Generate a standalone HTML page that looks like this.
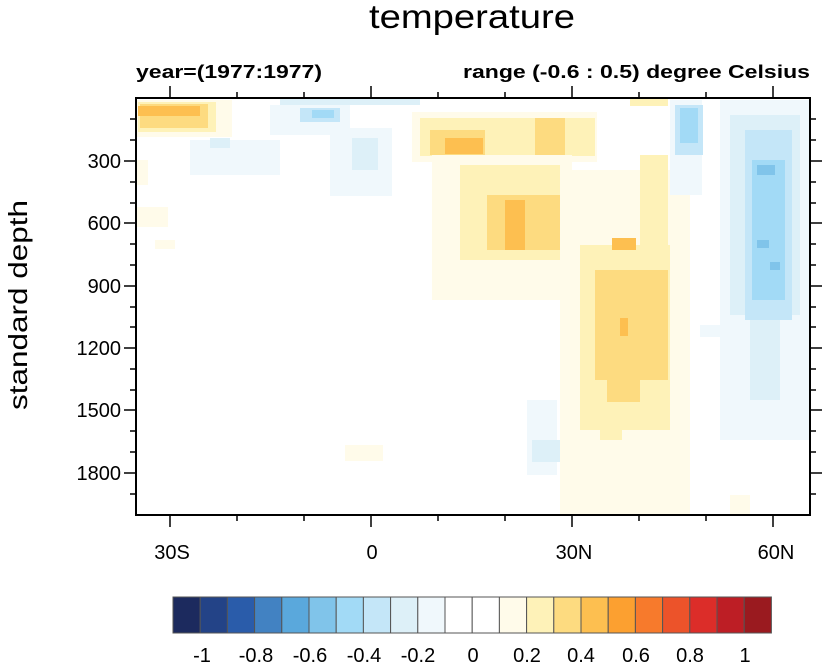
<!DOCTYPE html>
<html><head><meta charset="utf-8"><style>
body{margin:0;background:#fff}
svg text{font-family:"Liberation Sans",sans-serif}
</style></head><body>
<svg width="827" height="663" xmlns="http://www.w3.org/2000/svg">
<text x="472" y="28" font-size="33" text-anchor="middle" textLength="206" lengthAdjust="spacingAndGlyphs">temperature</text>
<text x="136" y="78" font-size="18" font-weight="bold" textLength="186" lengthAdjust="spacingAndGlyphs">year=(1977:1977)</text>
<text x="463" y="78" font-size="18" font-weight="bold" textLength="347" lengthAdjust="spacingAndGlyphs">range (-0.6 : 0.5) degree Celsius</text>
<text transform="translate(27,305) rotate(-90)" font-size="26" text-anchor="middle" textLength="210" lengthAdjust="spacingAndGlyphs">standard depth</text>
<g>
<rect x="136" y="100" width="96" height="37" fill="#fffbea"/>
<rect x="138" y="102" width="78" height="30" fill="#fef2b8"/>
<rect x="140" y="104" width="68" height="24" fill="#fddb80"/>
<rect x="138" y="106" width="62" height="10" fill="#fdbf50"/>
<rect x="136" y="160" width="12" height="25" fill="#fffbea"/>
<rect x="137" y="207" width="31" height="20" fill="#fffbea"/>
<rect x="155" y="240" width="20" height="9" fill="#fffbea"/>
<rect x="280" y="98" width="140" height="7" fill="#ddf0f8"/>
<rect x="270" y="105" width="80" height="30" fill="#f0f8fc"/>
<rect x="300" y="108" width="40" height="14" fill="#c4e6f8"/>
<rect x="312" y="110" width="22" height="8" fill="#a2daf6"/>
<rect x="190" y="140" width="90" height="35" fill="#f0f8fc"/>
<rect x="210" y="138" width="20" height="10" fill="#ddf0f8"/>
<rect x="330" y="128" width="62" height="68" fill="#f0f8fc"/>
<rect x="352" y="138" width="26" height="32" fill="#ddf0f8"/>
<rect x="412" y="112" width="185" height="50" fill="#fffbea"/>
<rect x="420" y="118" width="175" height="38" fill="#fef2b8"/>
<rect x="430" y="130" width="55" height="25" fill="#fddb80"/>
<rect x="445" y="138" width="38" height="16" fill="#fdbf50"/>
<rect x="535" y="118" width="30" height="38" fill="#fddb80"/>
<rect x="630" y="98" width="38" height="8" fill="#fef2b8"/>
<rect x="432" y="155" width="140" height="145" fill="#fffbea"/>
<rect x="460" y="165" width="100" height="95" fill="#fef2b8"/>
<rect x="487" y="195" width="73" height="55" fill="#fddb80"/>
<rect x="505" y="200" width="20" height="50" fill="#fdbf50"/>
<rect x="560" y="170" width="130" height="345" fill="#fffbea"/>
<rect x="640" y="155" width="28" height="100" fill="#fef2b8"/>
<rect x="580" y="245" width="90" height="185" fill="#fef2b8"/>
<rect x="595" y="270" width="73" height="110" fill="#fddb80"/>
<rect x="607" y="380" width="33" height="22" fill="#fddb80"/>
<rect x="612" y="238" width="24" height="12" fill="#fdbf50"/>
<rect x="620" y="318" width="8" height="18" fill="#fdbf50"/>
<rect x="600" y="420" width="22" height="20" fill="#fef2b8"/>
<rect x="730" y="495" width="20" height="20" fill="#fffbea"/>
<rect x="345" y="445" width="38" height="16" fill="#fffbea"/>
<rect x="670" y="100" width="32" height="95" fill="#f0f8fc"/>
<rect x="675" y="105" width="28" height="50" fill="#c4e6f8"/>
<rect x="680" y="108" width="18" height="35" fill="#a2daf6"/>
<rect x="720" y="100" width="90" height="340" fill="#f0f8fc"/>
<rect x="730" y="115" width="70" height="200" fill="#ddf0f8"/>
<rect x="745" y="130" width="47" height="190" fill="#c4e6f8"/>
<rect x="752" y="160" width="33" height="140" fill="#a2daf6"/>
<rect x="757" y="165" width="18" height="10" fill="#80c4ea"/>
<rect x="757" y="240" width="12" height="8" fill="#80c4ea"/>
<rect x="770" y="262" width="10" height="8" fill="#80c4ea"/>
<rect x="750" y="320" width="30" height="80" fill="#ddf0f8"/>
<rect x="700" y="325" width="30" height="12" fill="#f0f8fc"/>
<rect x="527" y="400" width="30" height="75" fill="#f0f8fc"/>
<rect x="532" y="440" width="28" height="22" fill="#ddf0f8"/>
</g>
<rect x="136" y="98" width="674" height="417" fill="none" stroke="#000" stroke-width="2"/>
<g stroke="#000" stroke-width="1.5">
<path d="M170 98v-12M237 98v-6M304 98v-6M371 98v-12M438 98v-6M505 98v-6M572 98v-12M639 98v-6M706 98v-6M773 98v-12"/>
<path d="M170 515v12M237 515v6M304 515v6M371 515v12M438 515v6M505 515v6M572 515v12M639 515v6M706 515v6M773 515v12"/>
<path d="M136 119h-6M136 140h-6M136 161h-12M136 182h-6M136 203h-6M136 223h-12M136 244h-6M136 265h-6M136 286h-12M136 307h-6M136 327h-6M136 348h-12M136 369h-6M136 390h-6M136 410h-12M136 431h-6M136 452h-6M136 473h-12M136 494h-6"/>
<path d="M810 119h6M810 140h6M810 161h12M810 182h6M810 203h6M810 223h12M810 244h6M810 265h6M810 286h12M810 307h6M810 327h6M810 348h12M810 369h6M810 390h6M810 410h12M810 431h6M810 452h6M810 473h12M810 494h6"/>
</g>
<g font-size="20" text-anchor="end">
<text x="121" y="168">300</text><text x="121" y="230">600</text><text x="121" y="293">900</text>
<text x="121" y="355">1200</text><text x="121" y="417">1500</text><text x="121" y="480">1800</text>
</g>
<g font-size="20" text-anchor="middle">
<text x="172" y="559">30S</text><text x="372" y="559">0</text><text x="574" y="559">30N</text><text x="776" y="559">60N</text>
</g>
<g stroke="#555" stroke-width="1">
<rect x="173" y="597" width="27.2" height="36" fill="#1c2a5e"/>
<rect x="200.2" y="597" width="27.2" height="36" fill="#234387"/>
<rect x="227.4" y="597" width="27.2" height="36" fill="#2a5caa"/>
<rect x="254.6" y="597" width="27.2" height="36" fill="#4282c2"/>
<rect x="281.8" y="597" width="27.2" height="36" fill="#5aa8dc"/>
<rect x="309" y="597" width="27.2" height="36" fill="#80c4ea"/>
<rect x="336.2" y="597" width="27.2" height="36" fill="#a2daf6"/>
<rect x="363.4" y="597" width="27.2" height="36" fill="#c4e6f8"/>
<rect x="390.6" y="597" width="27.2" height="36" fill="#ddf0f8"/>
<rect x="417.8" y="597" width="27.2" height="36" fill="#f0f8fc"/>
<rect x="445" y="597" width="27.2" height="36" fill="#fff"/>
<rect x="472.2" y="597" width="27.2" height="36" fill="#fff"/>
<rect x="499.4" y="597" width="27.2" height="36" fill="#fffbea"/>
<rect x="526.6" y="597" width="27.2" height="36" fill="#fef2b8"/>
<rect x="553.8" y="597" width="27.2" height="36" fill="#fddb80"/>
<rect x="581" y="597" width="27.2" height="36" fill="#fdbf50"/>
<rect x="608.2" y="597" width="27.2" height="36" fill="#fca030"/>
<rect x="635.4" y="597" width="27.2" height="36" fill="#f77a2c"/>
<rect x="662.6" y="597" width="27.2" height="36" fill="#ec532a"/>
<rect x="689.8" y="597" width="27.2" height="36" fill="#dc2d29"/>
<rect x="717" y="597" width="27.2" height="36" fill="#bd1e25"/>
<rect x="744.2" y="597" width="27.2" height="36" fill="#9a1a1f"/>
</g>
<g font-size="20" text-anchor="middle">
<text x="202" y="662">-1</text><text x="256" y="662">-0.8</text><text x="310" y="662">-0.6</text>
<text x="364" y="662">-0.4</text><text x="418" y="662">-0.2</text><text x="473" y="662">0</text>
<text x="527" y="662">0.2</text><text x="581" y="662">0.4</text><text x="636" y="662">0.6</text>
<text x="690" y="662">0.8</text><text x="745" y="662">1</text>
</g>
</svg>
</body></html>
